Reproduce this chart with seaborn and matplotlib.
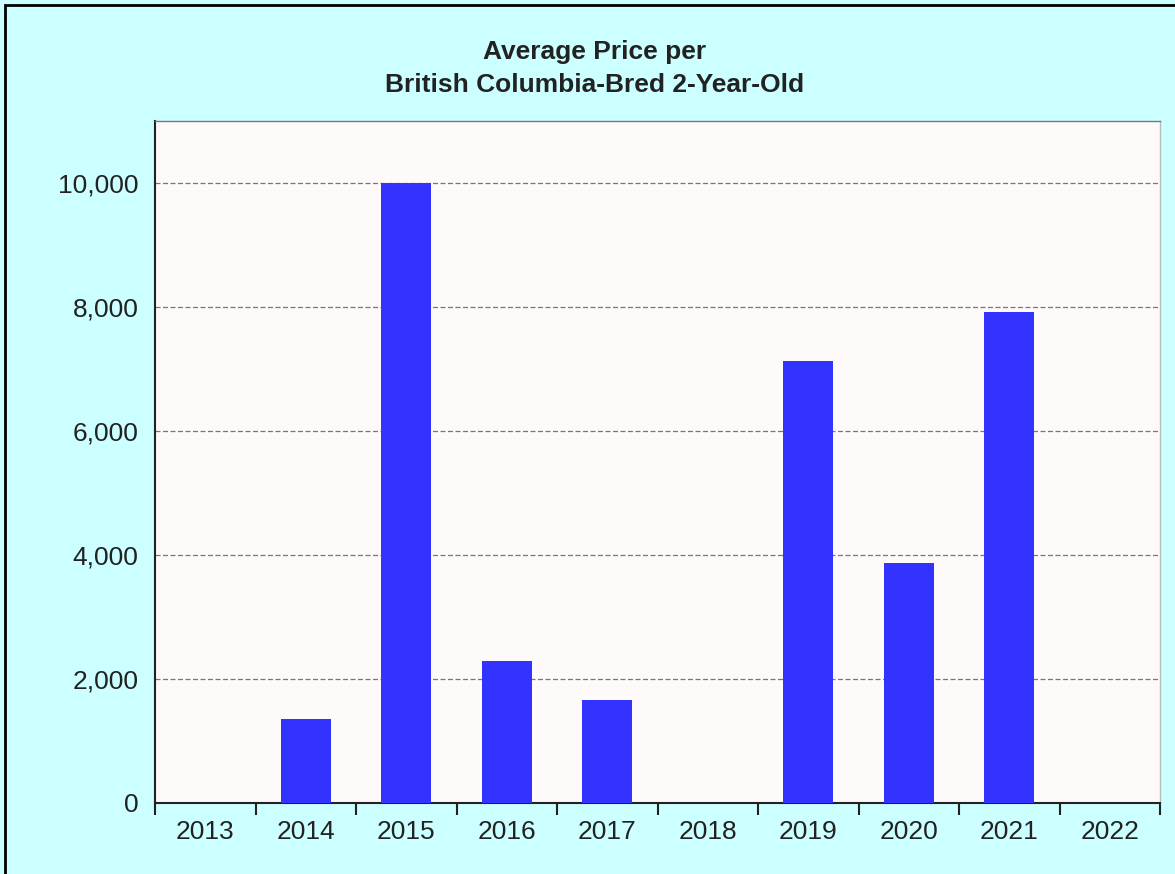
import matplotlib
matplotlib.use('Agg')
import matplotlib.pyplot as plt
import matplotlib.ticker as mticker
import seaborn as sns
import pandas as pd

# values
years = ['2013', '2014', '2015', '2016', '2017', '2018', '2019', '2020', '2021', '2022']
avg_price = [0, 1355, 10000, 2290, 1660, 0, 7130, 3870, 7920, 0]

df = pd.DataFrame({'Year': years, 'Price': avg_price})

sns.set_style('white')
plt.rcParams['font.family'] = ['Liberation Sans', 'DejaVu Sans']

W, H = 1175, 874
fig = plt.figure(figsize=(W / 100, H / 100), dpi=100, facecolor='#ccffff')
ax = fig.add_axes([155 / W, 1 - 803 / H, (1160 - 155) / W, (803 - 121) / H])
ax.set_facecolor('#fffafa')

sns.barplot(data=df, x='Year', y='Price', color='#3333ff', width=0.5,
            saturation=1, linewidth=0, ax=ax, zorder=3)

ax.set_ylim(0, 11000)
ax.set_xlim(-0.5, len(years) - 0.5)
ax.yaxis.set_major_locator(mticker.MultipleLocator(2000))
ax.yaxis.set_major_formatter(mticker.StrMethodFormatter('{x:,.0f}'))
for y in range(2000, 10001, 2000):
    ax.axhline(y, color='#777777', linestyle=(0, (4, 2)), linewidth=0.9, zorder=1)

# ticks between categories
ax.set_xticks([i - 0.5 for i in range(len(years) + 1)], minor=False)
ax.set_xticklabels([])
ax.set_xticks(range(len(years)), minor=True)
ax.set_xticklabels(years, minor=True)
ax.tick_params(axis='x', which='major', length=8.5, width=1.5, color='#222222', direction='out', bottom=True)
ax.tick_params(axis='x', which='minor', length=0, labelsize=19, pad=12.5, labelcolor='#222222')
ax.tick_params(axis='y', length=0, labelsize=19, pad=12, labelcolor='#222222')

ax.set_xlabel('')
ax.set_ylabel('')
for side in ['left', 'bottom']:
    ax.spines[side].set_color('#222222')
    ax.spines[side].set_linewidth(1.5)
ax.spines['top'].set_color('#777777')
ax.spines['top'].set_linewidth(1)
ax.spines['right'].set_color('#bbbbbb')
ax.spines['right'].set_linewidth(1)

fig.text(595 / W, 1 - 52 / H, 'Average Price per', ha='center', va='center',
         fontsize=19, fontweight='bold', color='#222222')
fig.text(595 / W, 1 - 85 / H, 'British Columbia-Bred 2-Year-Old', ha='center', va='center',
         fontsize=19, fontweight='bold', color='#222222')

# outer frame (left and top edges visible in the reference)
fig.add_artist(plt.Rectangle((5 / W, -0.1), 1.2, 1 - 5 / H + 0.1, transform=fig.transFigure,
                             fill=False, edgecolor='black', linewidth=2))

fig.savefig('out.png', dpi=100, facecolor=fig.get_facecolor())
